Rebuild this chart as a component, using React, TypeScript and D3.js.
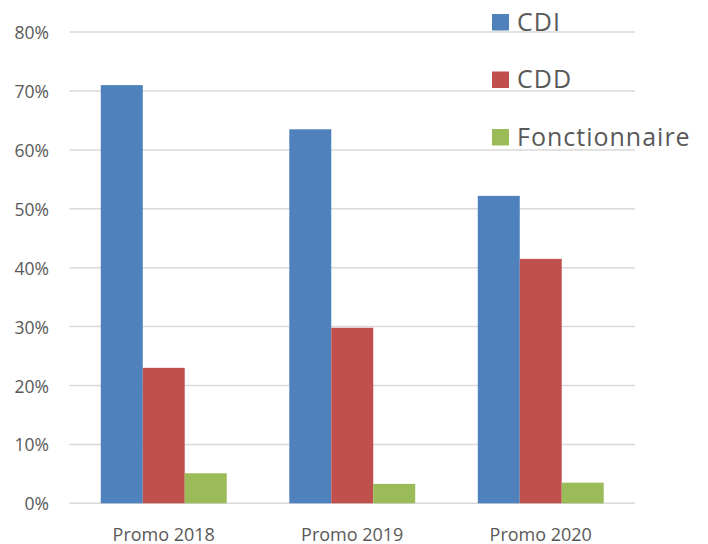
import React from "react";
import * as d3 from "d3";

const categories = ["Promo 2018", "Promo 2019", "Promo 2020"];
const seriesNames = ["CDI", "CDD", "Fonctionnaire"];
const cdi = [71.0, 63.5, 52.2];
const cdd = [23.0, 29.8, 41.5];
const fonctionnaire = [5.1, 3.3, 3.5];
const yTicks = [0, 10, 20, 30, 40, 50, 60, 70, 80];
const colors = ["#4F81BD", "#C0504D", "#9BBB59"];

const seriesValues = [cdi, cdd, fonctionnaire];

export default function App() {
  const W = 708;
  const H = 544;
  const x0 = 69.5;
  const x1 = 635;
  const y = d3.scaleLinear().domain([0, 80]).range([503.3, 32.1]);
  const xBand = d3
    .scaleBand<string>()
    .domain(categories)
    .range([x0, x1])
    .paddingInner(0.332)
    .paddingOuter(0.166);
  const xSeries = d3
    .scaleBand<string>()
    .domain(seriesNames)
    .range([0, xBand.bandwidth()])
    .padding(0);
  const font = "'Open Sans', 'Noto Sans', sans-serif";

  return (
    <svg
      width={W}
      height={H}
      style={{ position: "absolute", left: 0, top: 0, background: "#fff" }}
    >
      {yTicks.map((t) => (
        <g key={t}>
          <line
            x1={x0}
            x2={x1}
            y1={y(t)}
            y2={y(t)}
            stroke="#D9D9D9"
            strokeWidth={1.5}
          />
          <text
            x={49}
            y={y(t)}
            textAnchor="end"
            dominantBaseline="central"
            fontFamily={font}
            fontSize={17.5}
            fill="#595959"
          >
            {d3.format("d")(t)}%
          </text>
        </g>
      ))}
      {categories.map((c, ci) => (
        <g key={c}>
          {seriesNames.map((s, si) => {
            const v = seriesValues[si][ci];
            const bx = (xBand(c) ?? 0) + (xSeries(s) ?? 0);
            return (
              <rect
                key={s}
                x={bx}
                y={y(v)}
                width={xSeries.bandwidth()}
                height={y(0) - y(v)}
                fill={colors[si]}
              />
            );
          })}
          <text
            x={(xBand(c) ?? 0) + xBand.bandwidth() / 2}
            y={540.5}
            textAnchor="middle"
            fontFamily={font}
            fontSize={18}
            fill="#595959"
          >
            {c}
          </text>
        </g>
      ))}
      {seriesNames.map((s, si) => (
        <g key={s} transform={`translate(492, ${30.5 + si * 57.5})`}>
          <rect x={0} y={-16.5} width={17} height={16.5} fill={colors[si]} />
          <text
            x={25}
            y={0}
            fontFamily={font}
            fontSize={25}
            letterSpacing={1}
            fill="#595959"
          >
            {s}
          </text>
        </g>
      ))}
    </svg>
  );
}
